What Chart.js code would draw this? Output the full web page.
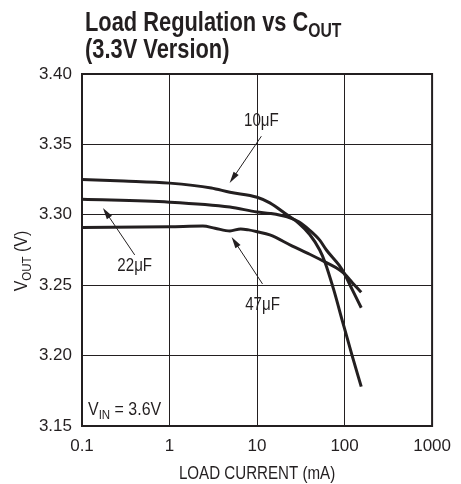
<!DOCTYPE html>
<html>
<head>
<meta charset="utf-8">
<script src="https://cdn.jsdelivr.net/npm/chart.js@4"></script>
<style>
  html, body { margin: 0; padding: 0; background: #fff; }
</style>
</head>
<body>
<canvas id="chart" width="461" height="484"></canvas>
<script>
// Load regulation vs COUT (3.3V version)

const xTicks = [0.1, 1, 10, 100, 1000];
const yTicks = [3.15, 3.20, 3.25, 3.30, 3.35, 3.40];

// 10uF
const current10 = [0.1, 0.3, 1, 3, 4.9, 10, 14, 22, 30, 40, 52, 60, 75, 95, 122, 155];
const vout10 = [3.325, 3.324, 3.3225, 3.319, 3.316, 3.3125, 3.3085, 3.300, 3.294, 3.286, 3.275, 3.266, 3.247, 3.224, 3.200, 3.178];

// 22uF
const current22 = [0.1, 1, 4.9, 10, 14, 22, 30, 40, 52, 62, 87, 100, 122, 155];
const vout22 = [3.311, 3.309, 3.3055, 3.302, 3.301, 3.2985, 3.295, 3.289, 3.282, 3.275, 3.264, 3.258, 3.247, 3.234];

// 47uF
const current47 = [0.1, 1, 2.4, 3.3, 4.9, 6.5, 8, 10, 14, 25, 40, 62, 87, 100, 122, 155];
const vout47 = [3.291, 3.2915, 3.292, 3.2905, 3.2885, 3.290, 3.2893, 3.288, 3.2857, 3.278, 3.272, 3.266, 3.261, 3.258, 3.252, 3.245];

// callouts: label position, arrow start, arrow tip (data coords)
const callouts = [
    { text: '10\u03bcF', label: [11.2, 3.3673], from: [11.2, 3.3558], to: [4.86, 3.3226] },
    { text: '22\u03bcF', label: [0.40, 3.2644], from: [0.40, 3.2715], to: [0.1735, 3.3049] },
    { text: '47\u03bcF', label: [11.55, 3.2367], from: [11.55, 3.2509], to: [5.12, 3.2843] }
];

const FONT = '"Liberation Sans", Arial, sans-serif';
const INK = '#231f20';
const NARROW = 0.84;   // fake a condensed face

function toPoints(xs, ys) {
    return xs.map((x, i) => ({ x: x, y: ys[i] }));
}

function curve(xs, ys) {
    return {
        data: toPoints(xs, ys),
        borderColor: INK,
        borderWidth: 3,
        pointRadius: 0,
        fill: false,
        cubicInterpolationMode: 'monotone'
    };
}

function setFont(ctx, p, size) {
    const s = p.sub ? size * 0.72 : size;
    ctx.font = (p.bold ? 'bold ' : '') + s + 'px ' + FONT;
}

function partsWidth(ctx, parts, size) {
    let w = 0;
    parts.forEach(p => {
        setFont(ctx, p, size);
        w += ctx.measureText(p.t).width;
    });
    return w;
}

// text run with subscripts, squeezed horizontally; align: 0 left, 0.5 center
function narrowText(ctx, parts, x, y, size, align, sx) {
    const w = partsWidth(ctx, parts, size);
    ctx.save();
    ctx.translate(x, y);
    ctx.scale(sx, 1);
    ctx.textAlign = 'left';
    let cx = -w * align;
    parts.forEach(p => {
        setFont(ctx, p, size);
        ctx.fillText(p.t, cx, p.sub ? size * 0.2 : 0);
        cx += ctx.measureText(p.t).width;
    });
    ctx.restore();
}

const decorations = {
    id: 'decorations',
    afterDraw(chart) {
        const ctx = chart.ctx;
        const xs = chart.scales.x;
        const ys = chart.scales.y;
        const area = chart.chartArea;

        ctx.save();
        ctx.fillStyle = INK;
        ctx.strokeStyle = INK;
        ctx.textBaseline = 'alphabetic';

        // title
        narrowText(ctx, [{ t: 'Load Regulation vs C', bold: true }, { t: 'OUT', bold: true, sub: true }], 85, 31, 28, 0, 0.78);
        narrowText(ctx, [{ t: '(3.3V Version)', bold: true }], 85, 58, 28, 0, 0.78);

        // frame
        ctx.lineWidth = 2;
        ctx.strokeRect(area.left, area.top, area.right - area.left, area.bottom - area.top);

        // VIN label on white box
        ctx.fillStyle = '#fff';
        ctx.fillRect(area.left + 2, area.bottom - 31, xs.getPixelForValue(1) - area.left - 3, 29);
        ctx.fillStyle = INK;
        narrowText(ctx, [{ t: 'V' }, { t: 'IN', sub: true }, { t: ' = 3.6V' }], area.left + 6, area.bottom - 11, 19, 0, NARROW);

        // callouts
        ctx.lineWidth = 1;
        callouts.forEach(c => {
            const lx = xs.getPixelForValue(c.label[0]);
            const ly = ys.getPixelForValue(c.label[1]);
            narrowText(ctx, [{ t: c.text }], lx, ly + 6, 18, 0.5, NARROW);

            const x0 = xs.getPixelForValue(c.from[0]);
            const y0 = ys.getPixelForValue(c.from[1]);
            const x1 = xs.getPixelForValue(c.to[0]);
            const y1 = ys.getPixelForValue(c.to[1]);
            const ang = Math.atan2(y1 - y0, x1 - x0);
            const head = 12;
            ctx.beginPath();
            ctx.moveTo(x0, y0);
            ctx.lineTo(x1 - Math.cos(ang) * head * 0.8, y1 - Math.sin(ang) * head * 0.8);
            ctx.stroke();
            ctx.beginPath();
            ctx.moveTo(x1, y1);
            ctx.lineTo(x1 - head * Math.cos(ang - 0.26), y1 - head * Math.sin(ang - 0.26));
            ctx.lineTo(x1 - head * Math.cos(ang + 0.26), y1 - head * Math.sin(ang + 0.26));
            ctx.closePath();
            ctx.fill();
        });

        // x axis title
        narrowText(ctx, [{ t: 'LOAD CURRENT (mA)' }], (area.left + area.right) / 2, 479, 18, 0.5, NARROW);

        // y axis title, rotated
        ctx.translate(27, 261);
        ctx.rotate(-Math.PI / 2);
        narrowText(ctx, [{ t: 'V' }, { t: 'OUT', sub: true }, { t: ' (V)' }], 0, 0, 19, 0.5, NARROW);

        ctx.restore();
    }
};

new Chart(document.getElementById('chart'), {
    type: 'line',
    data: {
        datasets: [
            curve(current10, vout10),
            curve(current22, vout22),
            curve(current47, vout47)
        ]
    },
    options: {
        responsive: false,
        animation: false,
        layout: { padding: { top: 74, right: 28, left: 0, bottom: 0 } },
        plugins: {
            legend: { display: false },
            tooltip: { enabled: false }
        },
        scales: {
            x: {
                type: 'logarithmic',
                min: 0.1,
                max: 1000,
                afterBuildTicks: (scale) => { scale.ticks = xTicks.map(v => ({ value: v })); },
                afterFit: (scale) => { scale.height = 58; },
                grid: { color: INK, lineWidth: 1, drawTicks: false },
                border: { color: INK, width: 2 },
                ticks: {
                    color: INK,
                    padding: 10,
                    maxRotation: 0,
                    font: { family: FONT, size: 17 },
                    callback: (v) => String(v)
                }
            },
            y: {
                type: 'linear',
                min: 3.15,
                max: 3.40,
                afterBuildTicks: (scale) => { scale.ticks = yTicks.map(v => ({ value: v })); },
                afterFit: (scale) => { scale.width = 82; },
                grid: { color: INK, lineWidth: 1, drawTicks: false },
                border: { color: INK, width: 2 },
                ticks: {
                    color: INK,
                    padding: 10,
                    font: { family: FONT, size: 17 },
                    callback: (v) => v.toFixed(2)
                }
            }
        }
    },
    plugins: [decorations]
});
</script>
</body>
</html>
